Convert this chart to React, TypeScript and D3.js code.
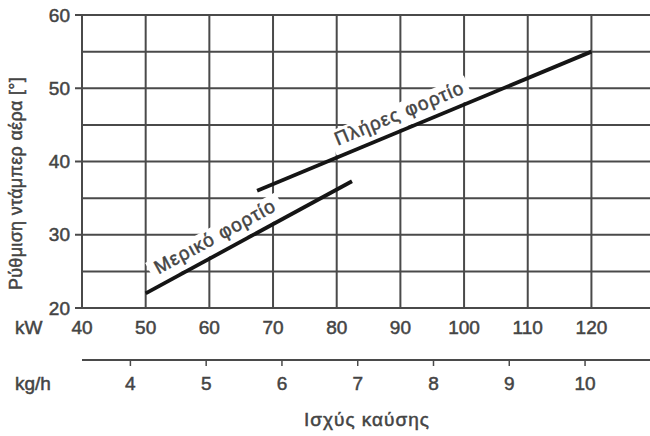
import React from 'react'
import * as d3 from 'd3'

const width = 650
const height = 436

// damper setting [deg] vs burner output [kW]
const kwTicks = [40, 50, 60, 70, 80, 90, 100, 110, 120]
const damperTicks = [20, 30, 40, 50, 60]
const damperGrid = [20, 25, 30, 35, 40, 45, 50, 55, 60]
const kghTicks = [4, 5, 6, 7, 8, 9, 10]
const KW_PER_KGH = 11.9

const fullLoad = [
    { kw: 67.5, deg: 36 },
    { kw: 120, deg: 55 },
]
const partLoad = [
    { kw: 50, deg: 22 },
    { kw: 82.4, deg: 37.3 },
]

const series = [
    { name: 'Πλήρες φορτίο', points: fullLoad, at: 0.445 },
    { name: 'Μερικό φορτίο', points: partLoad, at: 0.375 },
]

const x = d3.scaleLinear().domain([40, 129.2]).range([82, 650])
const y = d3.scaleLinear().domain([20, 60]).range([308, 15])

const font = '"Liberation Sans", Arial, sans-serif'
const ink = '#444'
const gridColor = '#4a4a4a'

const txt = { fill: ink, stroke: ink, strokeWidth: 0.5 }

const App = () => {
    const line = d3
        .line<{ kw: number; deg: number }>()
        .x((d) => x(d.kw))
        .y((d) => y(d.deg))

    const axis2Y = 360

    return (
        <svg
            width={width}
            height={height}
            style={{ position: 'absolute', left: 0, top: 0, background: '#fff' }}
            fontFamily={font}
        >
            {/* horizontal grid */}
            {damperGrid.map((v) => (
                <line
                    key={'h' + v}
                    x1={damperTicks.includes(v) ? x(40) - 7 : x(40)}
                    x2={x(129.2)}
                    y1={y(v)}
                    y2={y(v)}
                    stroke={gridColor}
                    strokeWidth={2}
                />
            ))}
            {/* vertical grid */}
            {kwTicks.map((v) => (
                <line
                    key={'v' + v}
                    x1={x(v)}
                    x2={x(v)}
                    y1={y(60)}
                    y2={y(20)}
                    stroke={gridColor}
                    strokeWidth={2}
                />
            ))}

            {/* curves with labels */}
            {series.map((s) => {
                const p0 = s.points[0]
                const p1 = s.points[s.points.length - 1]
                const x0 = x(p0.kw)
                const y0 = y(p0.deg)
                const x1 = x(p1.kw)
                const y1 = y(p1.deg)
                const ang = (Math.atan2(y1 - y0, x1 - x0) * 180) / Math.PI
                const lx = x0 + (x1 - x0) * s.at
                const ly = y0 + (y1 - y0) * s.at
                return (
                    <g key={s.name}>
                        <g transform={`translate(${lx},${ly}) rotate(${ang})`}>
                            <rect x={-74} y={-27} width={148} height={25} fill="#fff" />
                            <text
                                x={0}
                                y={-10.5}
                                textAnchor="middle"
                                fontSize={19}
                                letterSpacing={1.2}
                                {...txt}
                            >
                                {s.name}
                            </text>
                        </g>
                        <path
                            d={line(s.points) || ''}
                            fill="none"
                            stroke="#151515"
                            strokeWidth={3.8}
                        />
                    </g>
                )
            })}

            {/* y tick labels */}
            {damperTicks.map((v) => (
                <text
                    key={'yl' + v}
                    x={x(40) - 12}
                    y={y(v)}
                    dy="0.35em"
                    textAnchor="end"
                    fontSize={19}
                    {...txt}
                >
                    {v}
                </text>
            ))}
            <text
                transform={`translate(22,${(y(20) + y(60)) / 2 + 22}) rotate(-90)`}
                textAnchor="middle"
                fontSize={18}
                letterSpacing={0.3}
                {...txt}
            >
                Ρύθμιση ντάμπερ αέρα [°]
            </text>

            {/* kW axis */}
            <text x={15} y={334} fontSize={19} {...txt}>
                kW
            </text>
            {kwTicks.map((v) => (
                <text
                    key={'xl' + v}
                    x={x(v)}
                    y={334}
                    textAnchor="middle"
                    fontSize={19}
                    {...txt}
                >
                    {v}
                </text>
            ))}

            {/* kg/h axis */}
            <line
                x1={x(40)}
                x2={x(129.2)}
                y1={axis2Y}
                y2={axis2Y}
                stroke={gridColor}
                strokeWidth={2}
            />
            {kghTicks.map((v) => (
                <g key={'k' + v}>
                    <line
                        x1={x(v * KW_PER_KGH)}
                        x2={x(v * KW_PER_KGH)}
                        y1={axis2Y}
                        y2={axis2Y + 6}
                        stroke={gridColor}
                        strokeWidth={1.5}
                    />
                    <text
                        x={x(v * KW_PER_KGH)}
                        y={390}
                        textAnchor="middle"
                        fontSize={19}
                        {...txt}
                    >
                        {v}
                    </text>
                </g>
            ))}
            <text x={15} y={390} fontSize={19} {...txt}>
                kg/h
            </text>
            <text
                x={367}
                y={426}
                textAnchor="middle"
                fontSize={19}
                letterSpacing={1}
                {...txt}
            >
                Ισχύς καύσης
            </text>
        </svg>
    )
}

export default App
